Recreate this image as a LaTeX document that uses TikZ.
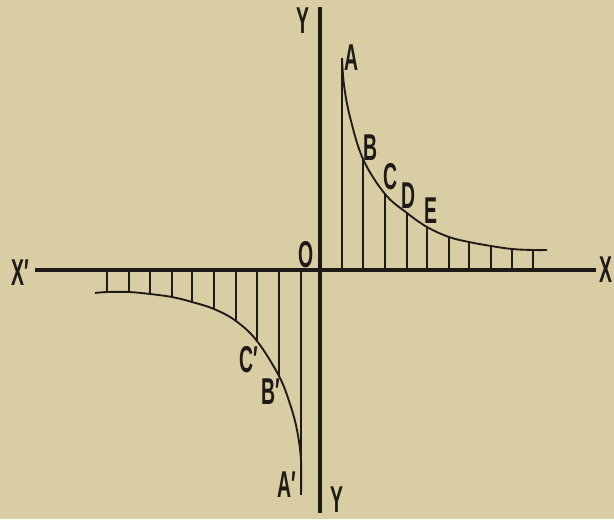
\documentclass[tikz,border=0pt]{standalone}
\usepackage{fontspec}
\newfontfamily\labfont[FakeStretch=0.52]{Liberation Sans}
\definecolor{paper}{HTML}{D9CDA3}
\definecolor{ink}{HTML}{1E1A16}
\begin{document}
\begin{tikzpicture}[x=0.75pt, y=-0.75pt,
    lab/.style={font=\labfont\bfseries\fontsize{28}{28}\selectfont, inner sep=0pt, text=ink},
    axis/.style={line width=3pt, ink},
    branch/.style={line width=1.4pt, ink},
    hatch/.style={line width=0.9pt, ink}]
        % Nen giay
        \fill[paper] (0,0) rectangle (614,519);
        \useasboundingbox (0,0) rectangle (614,519);

        % Hai truc toa do
        \coordinate (xl) at (35,270);
        \coordinate (xr) at (596,270);
        \coordinate (yt) at (320,7);
        \coordinate (yb) at (320,513);
        \draw[axis] (xl) -- (xr);
        \draw[axis] (yt) -- (yb);

        % Nhanh thu nhat (goc phan tu I)
        \draw[branch] plot[smooth, tension=0.6] coordinates {(342,58) (344,85) (350,117) (363,159) (385,194) (407,213) (427,227) (449,237) (469,242) (491,246) (512,249) (533,250) (547,250)};
        \foreach \x/\y in {342/60, 363/159, 385/194, 407/213, 427/227, 449/237, 469/242, 491/246, 512/249, 533/250}
            \draw[hatch] (\x,270) -- (\x,\y);

        % Nhanh thu hai (goc phan tu III)
        \draw[branch] plot[smooth, tension=0.6] coordinates {(95,293) (107,292) (129,292) (150,294) (172,297) (192,302) (214,309) (236,321) (257,341) (279,376) (290,404) (297,430) (301,460) (301,495)};
        \foreach \x/\y in {107/292, 129/292, 150/294, 172/297, 192/302, 214/309, 236/321, 257/341, 279/376, 301/495}
            \draw[hatch] (\x,270) -- (\x,\y);

        % Nhan
        \node[lab] (lY) at (303,21) {Y};
        \node[lab] (lYb) at (337,500) {Y};
        \node[lab] (lO) at (306,255) {O};
        \node[lab] (lXp) at (20,273) {X′};
        \node[lab] (lX) at (606,270) {X};
        \node[lab] (lA) at (352,58) {A};
        \node[lab] (lB) at (371,148) {B};
        \node[lab] (lC) at (391,177) {C};
        \node[lab] (lD) at (409,196) {D};
        \node[lab] (lE) at (431,211) {E};
        \node[lab] (lCp) at (249,360) {C′};
        \node[lab] (lBp) at (271,392) {B′};
        \node[lab] (lAp) at (287,485) {A′};
    \end{tikzpicture}
\end{document}
